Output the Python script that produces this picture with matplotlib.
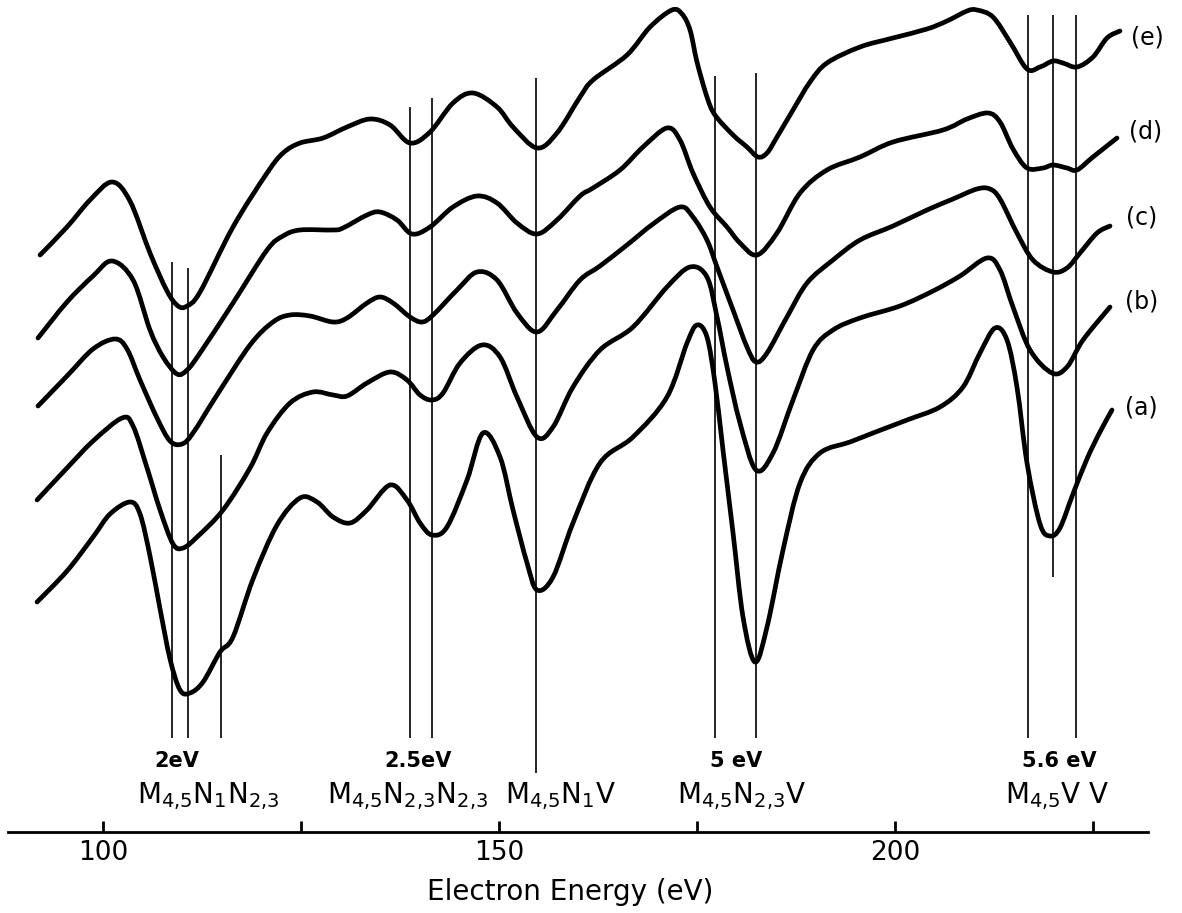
import matplotlib.pyplot as plt
from matplotlib.path import Path
from matplotlib.patches import PathPatch

plt.rcParams['font.family'] = ['DejaVu Sans']
plt.rcParams['mathtext.default'] = 'regular'

# Auger spectra (a)-(e): electron energy (eV) vs dN/dE (arb. units, stacked)
e_energy = [92.05, 95.45, 98.36, 101.14, 103.40, 105.93, 108.08, 109.47, 110.61,
            112.25, 116.41, 120.71, 122.73, 124.87, 127.78, 130.81, 133.71, 136.24, 138.76,
            141.29, 144.19, 146.72, 149.75, 151.77, 154.80, 157.32, 160.23, 161.87, 166.16,
            169.07, 171.84, 173.11, 174.12, 175.00, 176.26, 177.27, 179.55, 181.31, 182.70,
            183.84, 185.10, 187.12, 189.27, 191.41, 195.58, 199.75, 204.04, 206.57, 209.09,
            210.35, 212.37, 214.52, 216.67, 218.31, 219.95, 221.21, 222.98, 225.00, 226.77,
            228.41]
e_signal = [59.5, 62.3, 65.0, 66.8, 64.9, 59.7, 55.9, 54.4, 54.4,
            55.8, 62.3, 67.7, 69.7, 70.7, 71.2, 72.3, 73.1, 72.5, 70.7,
            71.8, 74.7, 75.7, 74.3, 72.3, 70.2, 71.7, 75.3, 77.0, 79.5,
            82.3, 84.0, 83.6, 82.0, 78.8, 75.3, 73.5, 71.5, 70.3, 69.3,
            69.7, 71.3, 74.0, 76.8, 78.7, 80.3, 81.2, 82.1, 82.9, 83.9,
            84.0, 83.3, 80.8, 78.1, 78.3, 78.9, 78.7, 78.3, 79.3, 81.2,
            81.9]

d_energy = [91.79, 95.45, 98.74, 101.14, 103.79, 105.93, 107.58, 109.34, 110.61, 112.25,
            116.41, 120.71, 122.73, 124.87, 129.04, 130.30, 133.33, 134.97, 137.12, 139.02,
            141.29, 144.19, 147.22, 149.75, 152.27, 154.80, 157.32, 160.23, 161.87, 165.28,
            168.18, 171.21, 172.85, 174.49, 176.64, 178.79, 180.43, 182.58, 185.10, 188.01,
            191.41, 195.58, 199.75, 206.06, 209.09, 211.74, 213.26, 214.90, 216.67, 218.69,
            219.95, 221.72, 222.98, 225.00, 228.03]
d_signal = [51.2, 54.8, 57.4, 58.9, 57.0, 52.0, 49.3, 47.6, 48.0, 49.7,
            54.7, 60.0, 61.4, 62.0, 62.0, 62.2, 63.5, 63.8, 63.0, 61.6,
            62.3, 64.3, 65.4, 64.7, 62.7, 61.6, 63.0, 65.4, 66.2, 68.0,
            70.3, 72.2, 71.0, 67.7, 64.3, 62.3, 60.7, 59.5, 61.7, 65.7,
            68.0, 69.3, 70.8, 72.0, 73.1, 73.7, 72.8, 70.1, 68.2, 68.2,
            68.5, 68.2, 68.0, 69.3, 71.2]

c_energy = [91.79, 95.45, 98.74, 101.52, 103.03, 104.67, 106.82, 108.46, 109.97, 111.36,
            114.39, 118.56, 121.46, 123.61, 126.14, 129.04, 130.81, 133.33, 134.97, 136.62,
            138.76, 140.28, 141.67, 144.70, 147.22, 149.75, 152.27, 154.80, 157.32, 160.23,
            162.75, 166.16, 169.44, 172.85, 174.49, 176.26, 177.53, 179.55, 181.31, 182.45,
            183.84, 186.36, 188.89, 192.17, 195.58, 199.75, 204.04, 207.32, 210.35, 211.99,
            213.26, 215.40, 217.42, 219.95, 221.72, 223.36, 225.51, 227.15]
c_signal = [44.4, 47.4, 50.1, 51.1, 50.1, 47.0, 43.2, 40.9, 40.6, 41.7,
            45.5, 50.5, 52.8, 53.5, 53.4, 52.8, 53.2, 54.7, 55.3, 54.7,
            53.3, 52.8, 53.5, 56.0, 57.8, 57.0, 53.7, 51.8, 54.0, 57.0,
            58.4, 60.5, 62.6, 64.3, 63.3, 61.0, 58.3, 54.0, 50.3, 48.8,
            49.7, 53.3, 56.7, 59.0, 61.0, 62.4, 64.0, 65.1, 66.1, 66.1,
            65.1, 61.7, 59.0, 57.8, 58.2, 59.7, 61.7, 62.4]

b_energy = [91.67, 95.45, 98.74, 102.40, 103.79, 105.56, 107.20, 108.84, 110.10, 111.87,
            115.15, 118.56, 120.71, 123.61, 126.52, 129.04, 130.81, 133.33, 136.24, 138.38,
            140.03, 141.54, 142.93, 145.08, 147.85, 150.13, 152.27, 154.80, 156.82, 159.34,
            162.75, 166.92, 171.21, 174.12, 176.26, 177.53, 178.79, 180.43, 182.45, 184.60,
            187.12, 189.65, 192.17, 195.58, 200.63, 204.80, 208.21, 211.62, 213.26, 214.90,
            217.05, 219.82, 221.72, 223.74, 227.15]
b_signal = [35.0, 38.2, 40.9, 43.2, 42.4, 38.2, 34.0, 30.6, 30.2, 31.3,
            34.0, 38.2, 41.7, 44.7, 45.8, 45.5, 45.4, 46.7, 47.8, 47.0,
            45.5, 45.0, 45.7, 48.7, 50.5, 49.3, 45.3, 41.3, 42.3, 46.3,
            50.0, 52.3, 56.3, 58.3, 57.3, 53.3, 48.3, 42.7, 38.0, 39.7,
            45.0, 50.0, 52.0, 53.2, 54.4, 55.9, 57.4, 59.2, 58.0, 54.3,
            50.0, 47.7, 48.3, 51.0, 54.3]

a_energy = [91.67, 95.45, 98.74, 100.88, 103.41, 104.67, 105.93, 107.20, 108.46, 109.72,
            110.98, 112.63, 114.77, 116.41, 118.94, 121.97, 124.87, 127.02, 129.04, 131.19,
            133.33, 136.24, 138.38, 140.03, 141.54, 143.43, 145.96, 147.98, 150.13, 151.77,
            153.54, 154.80, 156.82, 159.34, 162.75, 166.92, 171.21, 173.74, 175.00, 176.26,
            177.27, 178.28, 179.55, 180.81, 182.32, 183.84, 185.86, 188.01, 190.53, 194.32,
            197.22, 201.52, 205.68, 208.59, 210.73, 212.63, 214.14, 215.40, 216.67, 218.31,
            219.57, 220.83, 222.47, 224.24, 225.88, 227.40]
a_signal = [24.8, 27.9, 31.3, 33.6, 34.8, 33.6, 29.4, 24.1, 19.1, 16.0,
            15.7, 16.8, 19.8, 21.3, 27.1, 32.5, 35.2, 34.8, 33.3, 32.7,
            34.0, 36.5, 35.0, 32.7, 31.5, 32.3, 37.0, 41.7, 39.3, 34.0,
            28.7, 26.0, 27.3, 32.7, 38.7, 41.3, 45.3, 50.7, 52.5, 51.3,
            46.7, 40.0, 31.7, 23.3, 18.8, 22.3, 30.0, 36.7, 39.7, 40.8,
            41.7, 43.0, 44.3, 46.3, 49.7, 52.2, 51.0, 46.3, 38.7, 32.6,
            31.4, 32.2, 35.6, 39.1, 41.8, 44.0]

curve_names = ['(e)', '(d)', '(c)', '(b)', '(a)']
name_energy = [231.9, 231.6, 231.1, 231.1, 231.1]
name_signal = [81.2, 71.8, 63.2, 54.8, 44.3]

# vertical marker lines at the peak positions
marker_energy = [108.7, 110.7, 114.9, 138.8, 141.5, 154.7, 177.3, 182.4, 216.8, 219.9, 222.8]
marker_top = [58.8, 58.2, 39.5, 74.3, 75.2, 77.2, 77.4, 77.7, 83.5, 83.5, 83.5]
marker_bottom = [11.2, 11.2, 11.2, 11.2, 11.2, 7.7, 11.2, 11.2, 11.2, 27.3, 11.2]

split_labels = ['2eV', '2.5eV', '5 eV', '5.6 eV']
split_energy = [109.3, 139.8, 179.9, 220.7]

transition_labels = [r'M$_{4{,}5}$N$_1$N$_{2{,}3}$', r'M$_{4{,}5}$N$_{2{,}3}$N$_{2{,}3}$',
                     r'M$_{4{,}5}$N$_1$V', r'M$_{4{,}5}$N$_{2{,}3}$V', r'M$_{4{,}5}$V V']
transition_energy = [113.3, 138.5, 157.7, 180.7, 220.5]


def smooth(xs, ys):
    # Catmull-Rom curve through the read points, drawn as cubic Bezier segments
    pts = list(zip(xs, ys))
    n = len(pts)
    verts = [pts[0]]
    codes = [Path.MOVETO]
    for i in range(n - 1):
        p0 = pts[i - 1] if i > 0 else pts[i]
        p1, p2 = pts[i], pts[i + 1]
        p3 = pts[i + 2] if i + 2 < n else pts[i + 1]
        c1 = (p1[0] + (p2[0] - p0[0]) / 6, p1[1] + (p2[1] - p0[1]) / 6)
        c2 = (p2[0] - (p3[0] - p1[0]) / 6, p2[1] - (p3[1] - p1[1]) / 6)
        verts += [c1, c2, p2]
        codes += [Path.CURVE4] * 3
    return Path(verts, codes)


fig = plt.figure(figsize=(11.82, 9.13), dpi=100)
ax = fig.add_axes([0, 0, 1, 1])
ax.set_xlim(86.99, 236.24)
ax.set_ylim(-6.3, 85.0)

spectra = [(e_energy, e_signal), (d_energy, d_signal), (c_energy, c_signal),
           (b_energy, b_signal), (a_energy, a_signal)]
for en, sig in spectra:
    ax.add_patch(PathPatch(smooth(en, sig), facecolor='none', edgecolor='black',
                           lw=3.4, joinstyle='round', capstyle='round'))

for name, x, y in zip(curve_names, name_energy, name_signal):
    ax.text(x, y, name, fontsize=17, ha='center', va='center')

ax.vlines(marker_energy, marker_bottom, marker_top, color='black', lw=1.2)

for lab, x in zip(split_labels, split_energy):
    ax.text(x, 8.3, lab, fontsize=15, fontweight='bold', ha='center', va='baseline')
for lab, x in zip(transition_labels, transition_energy):
    ax.text(x, 4.7, lab, fontsize=20, ha='center', va='baseline')

# energy axis
for side in ['left', 'right', 'top']:
    ax.spines[side].set_visible(False)
ax.spines['bottom'].set_position(('data', 1.8))
ax.spines['bottom'].set_bounds(88.0, 231.9)
ax.spines['bottom'].set_linewidth(2)
ax.set_yticks([])
ax.set_xticks([100, 150, 200])
ax.set_xticks([125, 175, 225], minor=True)
ax.tick_params(axis='x', which='both', direction='in', length=8, width=2, pad=6, labelsize=19)
ax.text(159.0, -5.0, 'Electron Energy (eV)', fontsize=20, ha='center', va='baseline')

fig.savefig('out.png', dpi=100, facecolor='white')
